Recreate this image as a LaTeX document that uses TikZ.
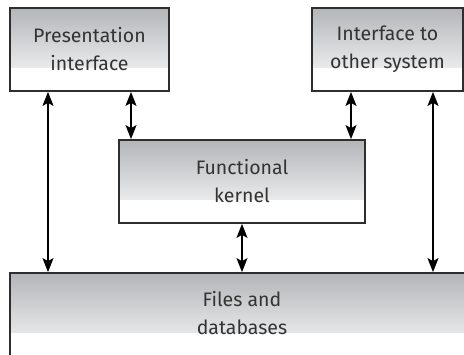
\documentclass[tikz,border=0pt]{standalone}
\usepackage{fontspec}
\setmainfont{Fira Sans}
\usetikzlibrary{arrows.meta}
\definecolor{edge}{HTML}{2E2E2E}
\definecolor{shadetop}{HTML}{B3B5B8}
\definecolor{ink}{HTML}{333333}
\tikzset{
  x=1pt, y=-1pt,
  label text/.style={text=ink, align=center, font=\fontsize{19.5}{28}\selectfont},
  block/.style={draw=edge, line width=1.8pt, rectangle, inner sep=0pt, label text,
    path picture={\shade[top color=shadetop, bottom color=white]
      (path picture bounding box.north west) rectangle
      ([yshift=-60pt]path picture bounding box.north east);}},
  link/.style={draw=black, line width=1.4pt,
    {Stealth[length=14pt,width=11pt,inset=3pt]}-{Stealth[length=14pt,width=11pt,inset=3pt]}}
}
\begin{document}
\begin{tikzpicture}
\useasboundingbox (0,0) rectangle (464,355);
\begin{scope}
\clip (0,0) rectangle (464,355);
% upper row
\node[block, minimum width=159pt, minimum height=83pt] (pres) at (89.5,49.5) {Presentation\\interface};
\node[block, minimum width=151pt, minimum height=83pt] (other) at (387.5,49.5) {Interface to\\other system};
% middle
\node[block, minimum width=246pt, minimum height=83pt] (kernel) at (242,181.5) {Functional\\kernel};
% storage, running past the right and lower edges
\node[block, minimum width=470pt, minimum height=90pt] (files) at (245,318) {};
\node[label text] (filestext) at (242,313) {Files and\\databases};
\end{scope}
% vertical positions of the connectors
\coordinate (xa) at (48,0);
\coordinate (xb) at (131,0);
\coordinate (xc) at (242,0);
\coordinate (xd) at (351,0);
\coordinate (xe) at (433,0);
\draw[link] (xa |- pres.south) -- (xa |- files.north);
\draw[link] (xb |- pres.south) -- (xb |- kernel.north);
\draw[link] (xd |- other.south) -- (xd |- kernel.north);
\draw[link] (xe |- other.south) -- (xe |- files.north);
\draw[link] (xc |- kernel.south) -- (xc |- files.north);
\end{tikzpicture}
\end{document}
